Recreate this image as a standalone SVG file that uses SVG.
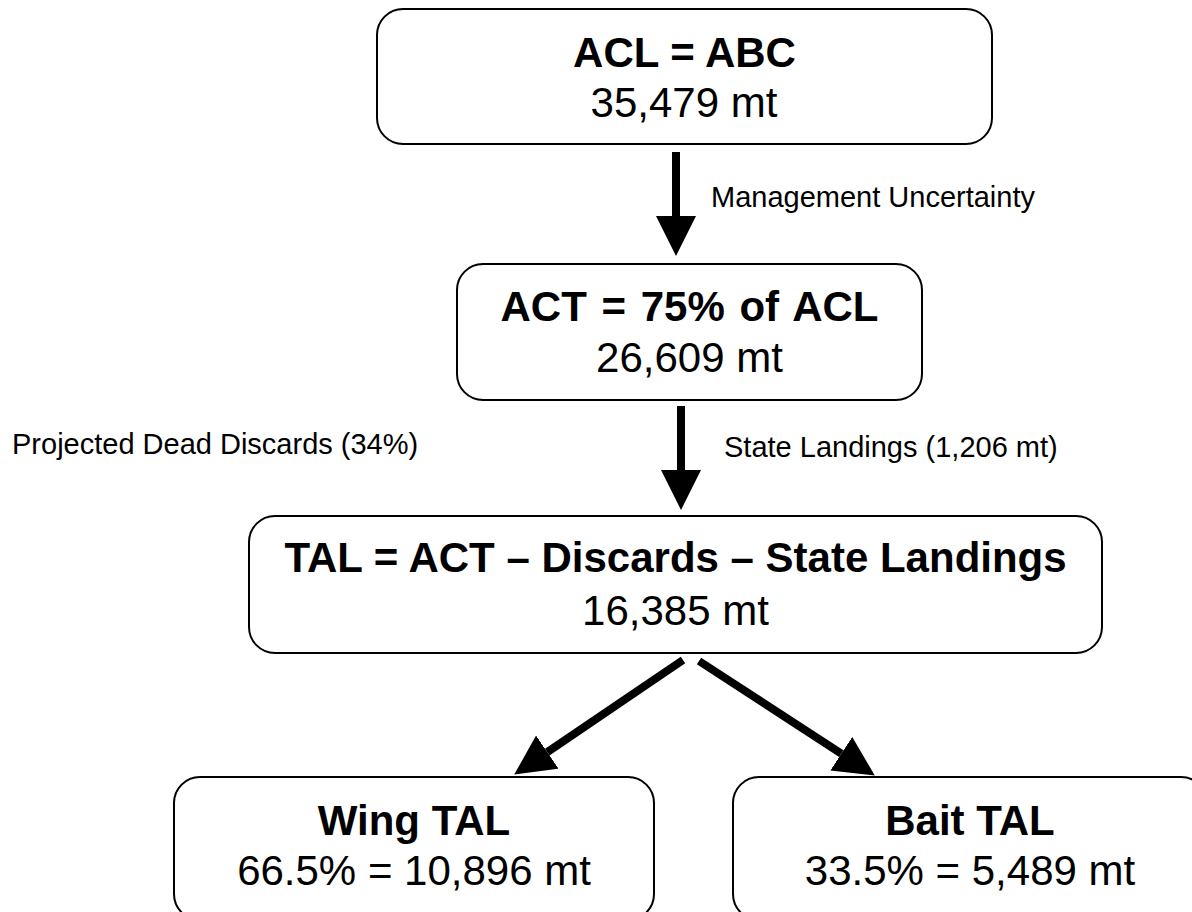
<svg xmlns="http://www.w3.org/2000/svg" width="1192" height="912" viewBox="0 0 1192 912">
<style>
.box{fill:#fff;stroke:#000;stroke-width:2}
.t{font-family:"Liberation Sans",Arial,sans-serif;fill:#000;text-anchor:middle;font-size:42px}
.b{font-weight:bold}
.lbl{font-family:"Liberation Sans",Arial,sans-serif;fill:#000;font-size:29px}
.conn{stroke:#000;stroke-width:8;fill:none}
</style>
<defs>
<marker id="ah" markerUnits="userSpaceOnUse" markerWidth="40" markerHeight="40" refX="0" refY="20" orient="auto">
<path d="M0,0 L40,20 L0,40 Z" fill="#000"/>
</marker>
</defs>
<rect width="1192" height="912" fill="#fff"/>
<g id="connectors">
<line class="conn" x1="676" y1="152" x2="676" y2="216" marker-end="url(#ah)"/>
<line class="conn" x1="681" y1="406" x2="681" y2="470" marker-end="url(#ah)"/>
<line class="conn" x1="683" y1="660" x2="547.3" y2="752.1" marker-end="url(#ah)"/>
<line class="conn" x1="699" y1="661" x2="841.3" y2="753.7" marker-end="url(#ah)"/>
<text class="lbl" x="711" y="207">Management Uncertainty</text>
<text class="lbl" x="12" y="454">Projected Dead Discards (34%)</text>
<text class="lbl" x="724" y="457">State Landings (1,206 mt)</text>
</g>
<g id="acl">
<rect class="box" x="377" y="9" width="615" height="135" rx="26"/>
<text class="t b" x="684.5" y="67">ACL = ABC</text>
<text class="t" x="684" y="117">35,479 mt</text>
</g>
<g id="act">
<rect class="box" x="457" y="264" width="465" height="136" rx="26"/>
<text class="t b" x="689.5" y="321" word-spacing="3">ACT = 75% of ACL</text>
<text class="t" x="689.5" y="372">26,609 mt</text>
</g>
<g id="tal">
<rect class="box" x="249" y="516" width="853" height="137" rx="26"/>
<text class="t b" x="675.5" y="572">TAL = ACT – Discards – State Landings</text>
<text class="t" x="675.5" y="625">16,385 mt</text>
</g>
<g id="wing">
<rect class="box" x="174" y="777" width="480" height="143" rx="26"/>
<text class="t b" x="414" y="835">Wing TAL</text>
<text class="t" x="414" y="885">66.5% = 10,896 mt</text>
</g>
<g id="bait">
<rect class="box" x="733" y="777" width="474" height="143" rx="26"/>
<text class="t b" x="970" y="835">Bait TAL</text>
<text class="t" x="970" y="885">33.5% = 5,489 mt</text>
</g>
</svg>
